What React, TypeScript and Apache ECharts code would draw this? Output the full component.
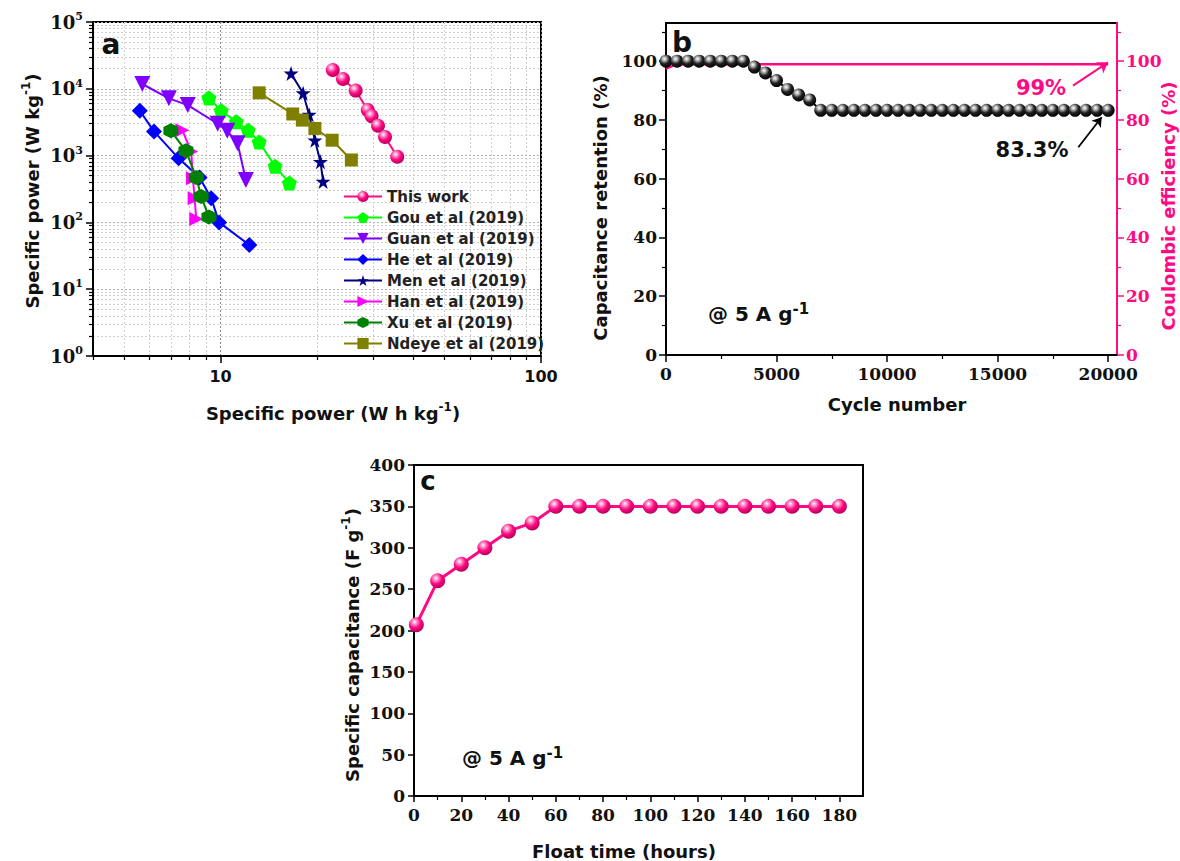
import React, { useEffect, useRef } from 'react';
import * as echarts from 'echarts';

const PINK = '#ff0a84';
const SANS = 'DejaVu Sans';
const SERIF = 'DejaVu Serif';

// ---------- Panel a : Ragone plot ----------
const seriesNames = [
  'This work',
  'Gou et al (2019)',
  'Guan et al (2019)',
  'He et al (2019)',
  'Men et al (2019)',
  'Han et al (2019)',
  'Xu et al (2019)',
  'Ndeye et al (2019)',
];
const thisWorkE = [22.4, 24.1, 26.4, 28.8, 29.6, 31.0, 32.6, 35.6];
const thisWorkP = [19100, 14000, 9400, 4800, 3900, 2800, 1900, 960];
const gouE = [9.2, 10.05, 11.2, 12.2, 13.2, 14.8, 16.4];
const gouP = [7300, 4700, 3200, 2400, 1600, 690, 390];
const guanE = [5.7, 6.9, 7.9, 9.8, 10.5, 11.3, 12.0];
const guanP = [11800, 7200, 5700, 3000, 2350, 1530, 430];
const heE = [5.6, 6.2, 7.4, 8.6, 9.35, 9.9, 12.3];
const heP = [4700, 2300, 910, 470, 230, 100, 46];
const menE = [16.6, 18.1, 18.9, 19.7, 20.5, 20.9];
const menP = [17000, 8600, 4100, 1700, 810, 410];
const hanE = [7.6, 8.1, 8.2, 8.3, 8.4];
const hanP = [2400, 1150, 460, 230, 112];
const xuE = [7.0, 7.8, 8.4, 8.7, 9.2];
const xuP = [2350, 1180, 470, 245, 120];
const ndeyeE = [13.2, 16.8, 18.0, 19.7, 22.3, 25.6];
const ndeyeP = [8700, 4200, 3400, 2550, 1700, 860];

const aXMajor = [10, 100];
const aXMinor = [4, 5, 6, 7, 8, 9, 20, 30, 40, 50, 60, 70, 80, 90];
const aYMinor = [
  2, 3, 4, 5, 6, 7, 8, 9,
  20, 30, 40, 50, 60, 70, 80, 90,
  200, 300, 400, 500, 600, 700, 800, 900,
  2000, 3000, 4000, 5000, 6000, 7000, 8000, 9000,
  20000, 30000, 40000, 50000, 60000, 70000, 80000, 90000,
];

// ---------- Panel b : cycling ----------
const cycles = [
  0, 500, 1000, 1500, 2000, 2500, 3000, 3500, 4000, 4500, 5000, 5500, 6000, 6500,
  7000, 7500, 8000, 8500, 9000, 9500, 10000, 10500, 11000, 11500, 12000, 12500,
  13000, 13500, 14000, 14500, 15000, 15500, 16000, 16500, 17000, 17500, 18000,
  18500, 19000, 19500, 20000,
];
const retention = [
  100, 100, 100, 100, 100, 100, 100, 100, 98, 96, 93.4, 90.4, 88.5, 86.8,
  83.3, 83.3, 83.3, 83.3, 83.3, 83.3, 83.3, 83.3, 83.3, 83.3, 83.3, 83.3,
  83.3, 83.3, 83.3, 83.3, 83.3, 83.3, 83.3, 83.3, 83.3, 83.3, 83.3,
  83.3, 83.3, 83.3, 83.3,
];
const ceCycles = [0, 500, 20000];
const coulombic = [97.5, 99, 99];
const bXMajor = [0, 5000, 10000, 15000, 20000];
const bXMinor = [2500, 7500, 12500, 17500];
const bYMajor = [0, 20, 40, 60, 80, 100];
const bYMinor = [10, 30, 50, 70, 90, 110];

// ---------- Panel c : float test ----------
const floatTime = [1, 10, 20, 30, 40, 50, 60, 70, 80, 90, 100, 110, 120, 130, 140, 150, 160, 170, 180];
const capacitance = [207, 260, 280, 300, 320, 330, 350, 350, 350, 350, 350, 350, 350, 350, 350, 350, 350, 350, 350];
const cXMajor = [0, 20, 40, 60, 80, 100, 120, 140, 160, 180];
const cXMinor = [10, 30, 50, 70, 90, 110, 130, 150, 170];
const cYMajor = [0, 50, 100, 150, 200, 250, 300, 350, 400];

const pts = (xs: number[], ys: number[]) => xs.map((x, i) => [x, ys[i]]);

const SYM = {
  pentagon: 'path://M5,0L9.76,3.45L7.94,9.05L2.06,9.05L0.24,3.45Z',
  triDown: 'path://M0,0L10,0L5,9Z',
  star: 'path://M5,0L6.18,3.6L10,3.6L6.9,5.9L8.1,9.5L5,7.3L1.9,9.5L3.1,5.9L0,3.6L3.82,3.6Z',
  triRight: 'path://M0,0L9,5L0,10Z',
  hexagon: 'path://M5,0L9.33,2.5L9.33,7.5L5,10L0.67,7.5L0.67,2.5Z',
};

const sphere = (light: string, base: string, dark: string) =>
  new echarts.graphic.RadialGradient(0.38, 0.32, 0.7, [
    { offset: 0, color: '#ffffff' },
    { offset: 0.2, color: light },
    { offset: 0.55, color: base },
    { offset: 1, color: dark },
  ]);

const serifLabel = (values: number[], color = '#111', margin = 9) => ({
  customValues: values,
  margin,
  formatter: (v: number) => `{v|${Math.round(v)}}`,
  rich: { v: { fontFamily: SERIF, fontWeight: 'bold', fontSize: 17, color, lineHeight: 20 } },
});
const axLine = (color = '#000') => ({ show: true, onZero: false, lineStyle: { color, width: 2 } });

function minorAxis(gridIndex: number, type: string, min: number, max: number, values: number[], position: string, color = '#000', grid = false) {
  return {
    gridIndex,
    type,
    min,
    max,
    position,
    axisLine: { show: false, onZero: false },
    axisLabel: { show: false },
    axisTick: { show: true, length: 4, customValues: values, lineStyle: { color, width: 1.2 } },
    splitLine: { show: grid, lineStyle: { color: '#cfcfcf', width: 1, type: [2, 2] } },
  };
}

function titleText(x: number, y: number, text: string, opts: any = {}) {
  const size = opts.size || 18;
  return {
    type: 'text',
    x,
    y,
    rotation: opts.rot || 0,
    silent: true,
    z: 10,
    style: {
      text,
      fontFamily: SANS,
      fontWeight: 'bold',
      fontSize: size,
      fill: opts.color || '#111',
      align: opts.align || 'center',
      verticalAlign: 'middle',
      lineHeight: size + 6,
      rich: {
        s: {
          fontFamily: SANS,
          fontWeight: 'bold',
          fontSize: opts.sup || 12,
          fill: opts.color || '#111',
          verticalAlign: 'top',
          lineHeight: opts.supLH || 8,
        },
      },
    },
  };
}

export default function App() {
  const ref = useRef<HTMLDivElement>(null);

  useEffect(() => {
    if (!ref.current) return;
    const chart = echarts.init(ref.current, undefined, { renderer: 'svg' });

    const aSeriesDefs = [
      { x: thisWorkE, y: thisWorkP, symbol: 'circle', size: 14, color: PINK, fill: sphere('#ff9ccc', PINK, '#b00058') },
      { x: gouE, y: gouP, symbol: SYM.pentagon, size: 15, color: '#00ff00' },
      { x: guanE, y: guanP, symbol: SYM.triDown, size: 16, color: '#8000ff' },
      { x: heE, y: heP, symbol: 'diamond', size: 16, color: '#0000ff' },
      { x: menE, y: menP, symbol: SYM.star, size: 15, color: '#000080' },
      { x: hanE, y: hanP, symbol: SYM.triRight, size: 14, color: '#ff00ff' },
      { x: xuE, y: xuP, symbol: SYM.hexagon, size: 15, color: '#008000' },
      { x: ndeyeE, y: ndeyeP, symbol: 'rect', size: 13, color: '#808000' },
    ];

    const aSeries = aSeriesDefs.map((d, i) => ({
      name: seriesNames[i],
      type: 'line',
      xAxisIndex: 0,
      yAxisIndex: 0,
      data: pts(d.x, d.y),
      symbol: d.symbol,
      symbolSize: d.size,
      showAllSymbol: true,
      lineStyle: { color: d.color, width: 2 },
      itemStyle: { color: (d as any).fill || d.color, opacity: 1 },
      z: 3,
    }));

    const option: any = {
      animation: false,
      backgroundColor: '#ffffff',
      grid: [
        { left: 93, top: 22, width: 448, height: 334, show: true, borderColor: '#000', borderWidth: 2 },
        { left: 666, top: 23, width: 451, height: 332, show: true, borderColor: '#000', borderWidth: 2 },
        { left: 414, top: 465, width: 449, height: 331, show: true, borderColor: '#000', borderWidth: 2 },
      ],
      xAxis: [
        {
          gridIndex: 0, type: 'log', logBase: 10, min: 4, max: 100, position: 'bottom',
          axisLine: axLine(),
          axisTick: { show: true, length: 7, customValues: aXMajor, lineStyle: { color: '#000', width: 1.5 } },
          axisLabel: {
            customValues: aXMajor, formatter: (v: number) => String(Math.round(v)),
            fontFamily: SANS, fontWeight: 'bold', fontSize: 16, color: '#111', margin: 12,
          },
          splitLine: { show: true, lineStyle: { color: '#8a8a8a', width: 1, type: [2, 2] } },
        },
        minorAxis(0, 'log', 4, 100, aXMinor, 'bottom', '#000', true),
        {
          gridIndex: 1, type: 'value', min: 0, max: 20400, position: 'bottom',
          axisLine: axLine(),
          axisTick: { show: true, length: 7, customValues: bXMajor, lineStyle: { color: '#000', width: 1.5 } },
          axisLabel: serifLabel(bXMajor, '#111', 9),
          splitLine: { show: false },
        },
        minorAxis(1, 'value', 0, 20400, bXMinor, 'bottom'),
        {
          gridIndex: 2, type: 'value', min: 0, max: 190, position: 'bottom',
          axisLine: axLine(),
          axisTick: { show: true, length: 6, customValues: cXMajor, lineStyle: { color: '#000', width: 1.5 } },
          axisLabel: serifLabel(cXMajor, '#111', 9),
          splitLine: { show: false },
        },
        minorAxis(2, 'value', 0, 190, cXMinor, 'bottom'),
      ],
      yAxis: [
        {
          gridIndex: 0, type: 'log', logBase: 10, min: 1, max: 100000, splitNumber: 5, position: 'left',
          axisLine: axLine(),
          axisTick: { show: true, length: 7, lineStyle: { color: '#000', width: 1.5 } },
          axisLabel: {
            margin: 10,
            formatter: (v: number) => `{b|10}{s|${Math.round(Math.log10(v))}}`,
            rich: {
              b: { fontFamily: SERIF, fontWeight: 'bold', fontSize: 18, color: '#111', lineHeight: 22 },
              s: { fontFamily: SERIF, fontWeight: 'bold', fontSize: 11, color: '#111', lineHeight: 8, verticalAlign: 'top' },
            },
          },
          splitLine: { show: true, lineStyle: { color: '#b0b0b0', width: 1, type: [2, 2] } },
        },
        minorAxis(0, 'log', 1, 100000, aYMinor, 'left', '#000', true),
        {
          gridIndex: 1, type: 'value', min: 0, max: 113, position: 'left',
          axisLine: axLine(),
          axisTick: { show: true, length: 7, customValues: bYMajor, lineStyle: { color: '#000', width: 1.5 } },
          axisLabel: serifLabel(bYMajor, '#111', 9),
          splitLine: { show: false },
        },
        minorAxis(1, 'value', 0, 113, bYMinor, 'left'),
        {
          gridIndex: 1, type: 'value', min: 0, max: 113, position: 'right',
          axisLine: axLine(PINK),
          axisTick: { show: true, length: 7, customValues: bYMajor, lineStyle: { color: PINK, width: 1.5 } },
          axisLabel: serifLabel(bYMajor, PINK, 9),
          splitLine: { show: false },
        },
        minorAxis(1, 'value', 0, 113, bYMinor, 'right', PINK),
        {
          gridIndex: 2, type: 'value', min: 0, max: 400, position: 'left',
          axisLine: axLine(),
          axisTick: { show: true, length: 6, customValues: cYMajor, lineStyle: { color: '#000', width: 1.5 } },
          axisLabel: serifLabel(cYMajor, '#111', 9),
          splitLine: { show: false },
        },
      ],
      legend: {
        data: seriesNames,
        orient: 'vertical',
        left: 338,
        top: 184,
        itemWidth: 38,
        itemHeight: 14,
        itemGap: 6,
        selectedMode: false,
        textStyle: { fontFamily: SANS, fontWeight: 'bold', fontSize: 15, color: '#222' },
      },
      series: [
        ...aSeries,
        {
          name: 'Coulombic efficiency',
          type: 'line',
          xAxisIndex: 2,
          yAxisIndex: 4,
          data: pts(ceCycles, coulombic),
          showSymbol: false,
          lineStyle: { color: PINK, width: 2.5 },
          z: 2,
          markLine: {
            silent: true,
            symbol: ['none', 'arrow'],
            symbolSize: 10,
            label: { show: false },
            lineStyle: { color: PINK, width: 2, type: 'solid' },
            data: [[{ coord: [18410, 91.7] }, { coord: [19990, 99.6] }]],
          },
        },
        {
          name: 'Capacitance retention',
          type: 'line',
          xAxisIndex: 2,
          yAxisIndex: 2,
          data: pts(cycles, retention),
          symbol: 'circle',
          symbolSize: 13,
          showAllSymbol: true,
          lineStyle: { color: '#000', width: 2 },
          itemStyle: { color: sphere('#bdbdbd', '#222', '#000') },
          z: 4,
          markLine: {
            silent: true,
            symbol: ['none', 'arrow'],
            symbolSize: 9,
            label: { show: false },
            lineStyle: { color: '#000', width: 1.8, type: 'solid' },
            data: [[{ coord: [18650, 70.7] }, { coord: [19706, 80.9] }]],
          },
        },
        {
          name: 'Specific capacitance',
          type: 'line',
          xAxisIndex: 4,
          yAxisIndex: 6,
          data: pts(floatTime, capacitance),
          symbol: 'circle',
          symbolSize: 15,
          showAllSymbol: true,
          lineStyle: { color: PINK, width: 3 },
          itemStyle: { color: sphere('#ff9ccc', PINK, '#b00058') },
          z: 4,
        },
      ],
      graphic: [
        titleText(111, 44, 'a', { size: 28 }),
        titleText(682, 42, 'b', { size: 28 }),
        titleText(428, 481, 'c', { size: 26 }),
        titleText(32, 191, 'Specific power (W kg{s|-1})', { rot: Math.PI / 2 }),
        titleText(333, 413, 'Specific power (W h kg{s|-1})'),
        titleText(600, 208, 'Capacitance retention (%)', { rot: Math.PI / 2 }),
        titleText(1168, 206, 'Coulombic efficiency (%)', { rot: Math.PI / 2, color: PINK }),
        titleText(897, 404, 'Cycle number'),
        titleText(352, 645, 'Specific capacitance (F g{s|-1})', { rot: Math.PI / 2 }),
        titleText(624, 851, 'Float time (hours)'),
        titleText(708, 314, '@ 5 A g{s|-1}', { size: 20, sup: 15, supLH: 6, align: 'left' }),
        titleText(462, 758, '@ 5 A g{s|-1}', { size: 20, sup: 15, supLH: 6, align: 'left' }),
        titleText(1041, 88, '99%', { size: 21, color: PINK }),
        titleText(1032, 150, '83.3%', { size: 21 }),
      ],
    };

    chart.setOption(option);
    return () => chart.dispose();
  }, []);

  return (
    <div
      ref={ref}
      style={{ position: 'absolute', left: 0, top: 0, width: 1180, height: 861, background: '#fff' }}
    />
  );
}
